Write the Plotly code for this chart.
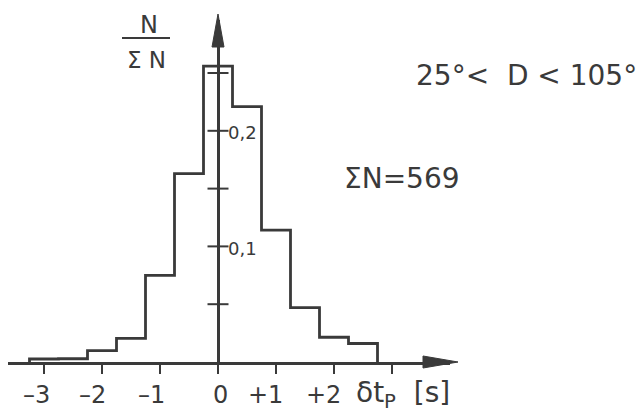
import plotly.graph_objects as go

# ---- data ----
bin_centers = [-3.0, -2.5, -2.0, -1.5, -1.0, -0.5, 0.0, 0.5, 1.0, 1.5, 2.0, 2.5]
fractions = [0.0026, 0.0028, 0.0098, 0.0205, 0.075, 0.163, 0.256, 0.221, 0.114, 0.047, 0.0214, 0.016]
bin_width = 0.5
x_tick_values = [-3, -2, -1, 0, 1, 2, 3]
x_label_values = [-3, -2, -1, 0, 1, 2]
x_tick_labels = ["–3", "–2", "–1", "0", "+1", "+2"]
y_tick_values = [0.05, 0.10, 0.15, 0.20, 0.25]
y_label_values = [0.10, 0.20]
y_tick_labels = ["0,1", "0,2"]

INK = "#3a3a3a"
FONT = "DejaVu Sans"

# ---- step outline of histogram ----
half = bin_width / 2
xs = [bin_centers[0] - half] + [c - half for c in bin_centers] + [bin_centers[-1] + half] * 2
ys = [0] + fractions + [fractions[-1], 0]

X_RANGE = [-3.6207, 4.0]
Y_RANGE = [0, 0.29585]
W, H = 641, 412
ML, MR, MT, MB = 8, 191, 20, 50
PW = W - ML - MR
PH = H - MT - MB


def px_x(px):
    return (px - ML) / PW


def px_y(py):
    return (H - MB - py) / PH


fig = go.Figure()
fig.add_trace(go.Scatter(
    x=xs, y=ys, mode="lines", line=dict(color=INK, width=2.8, shape="hv"),
    cliponaxis=False, hoverinfo="skip", showlegend=False))

# y-axis tick marks (crossing the axis)
fig.add_trace(go.Scatter(
    x=[0] * len(y_tick_values), y=y_tick_values, mode="markers",
    marker=dict(symbol="line-ew", size=15, line=dict(color=INK, width=2)),
    cliponaxis=False, hoverinfo="skip", showlegend=False))

annotations = []
label_shift = {-3: -8, -2: -10, -1: -9, 0: 2, 1: -11, 2: -11}
for v, t in zip(x_label_values, x_tick_labels):
    annotations.append(dict(x=v, y=0, xref="x", yref="y", text=t, showarrow=False,
                            xanchor="center", yanchor="middle", xshift=label_shift[v], yshift=-33,
                            font=dict(family=FONT, size=24, color=INK)))
for v, t in zip(y_label_values, y_tick_labels):
    annotations.append(dict(x=0, y=v, xref="x", yref="y", text=t, showarrow=False,
                            xanchor="left", yanchor="middle", xshift=8, yshift=-2,
                            font=dict(family=FONT, size=18, color=INK)))

annotations += [
    dict(x=px_x(354), y=px_y(394), xref="paper", yref="paper", text="δt<sub>P</sub>\u00a0\u00a0[s]",
         showarrow=False, xanchor="left", yanchor="middle", font=dict(family=FONT, size=28, color=INK)),
    dict(x=px_x(149), y=px_y(25), xref="paper", yref="paper", text="N", showarrow=False,
         xanchor="center", yanchor="middle", font=dict(family=FONT, size=24, color=INK)),
    dict(x=px_x(146), y=px_y(60), xref="paper", yref="paper", text="Σ N", showarrow=False,
         xanchor="center", yanchor="middle", font=dict(family=FONT, size=23, color=INK)),
    dict(x=px_x(414), y=px_y(75), xref="paper", yref="paper", text="25°<\u00a0\u00a0D < 105°",
         showarrow=False, xanchor="left", yanchor="middle", font=dict(family=FONT, size=28, color=INK)),
    dict(x=px_x(342), y=px_y(178), xref="paper", yref="paper", text="ΣN=569",
         showarrow=False, xanchor="left", yanchor="middle", font=dict(family=FONT, size=28, color=INK)),
]

x0_paper = (0 - X_RANGE[0]) / (X_RANGE[1] - X_RANGE[0])
shapes = [
    # fraction bar
    dict(type="line", xref="paper", yref="paper", x0=px_x(122), x1=px_x(170), y0=px_y(38), y1=px_y(38),
         line=dict(color=INK, width=2)),
    # x arrow head
    dict(type="path", xref="paper", yref="paper", xsizemode="pixel", ysizemode="pixel",
         xanchor=1, yanchor=0, path="M -27,-6 L 8,0 L -27,6 Z",
         fillcolor=INK, line=dict(color=INK, width=1)),
    # y arrow head
    dict(type="path", xref="paper", yref="paper", xsizemode="pixel", ysizemode="pixel",
         xanchor=x0_paper, yanchor=1, path="M -6,-27 L 0,6 L 6,-27 Z",
         fillcolor=INK, line=dict(color=INK, width=1)),
]

fig.update_layout(
    width=W, height=H, autosize=False,
    margin=dict(l=ML, r=MR, t=MT, b=MB, pad=0),
    paper_bgcolor="white", plot_bgcolor="white",
    showlegend=False,
    xaxis=dict(range=X_RANGE, showline=True, linecolor=INK, linewidth=3,
               ticks="outside", tickvals=x_tick_values, ticklen=9, tickwidth=2, tickcolor=INK,
               showticklabels=False, showgrid=False,
               zeroline=True, zerolinecolor=INK, zerolinewidth=3, fixedrange=True),
    yaxis=dict(range=Y_RANGE, visible=False, showgrid=False, zeroline=False, fixedrange=True),
    annotations=annotations,
    shapes=shapes,
)

fig.write_html("out.html", config={"displayModeBar": False},
               post_script="document.body.style.margin='0';document.body.style.overflow='hidden';")
